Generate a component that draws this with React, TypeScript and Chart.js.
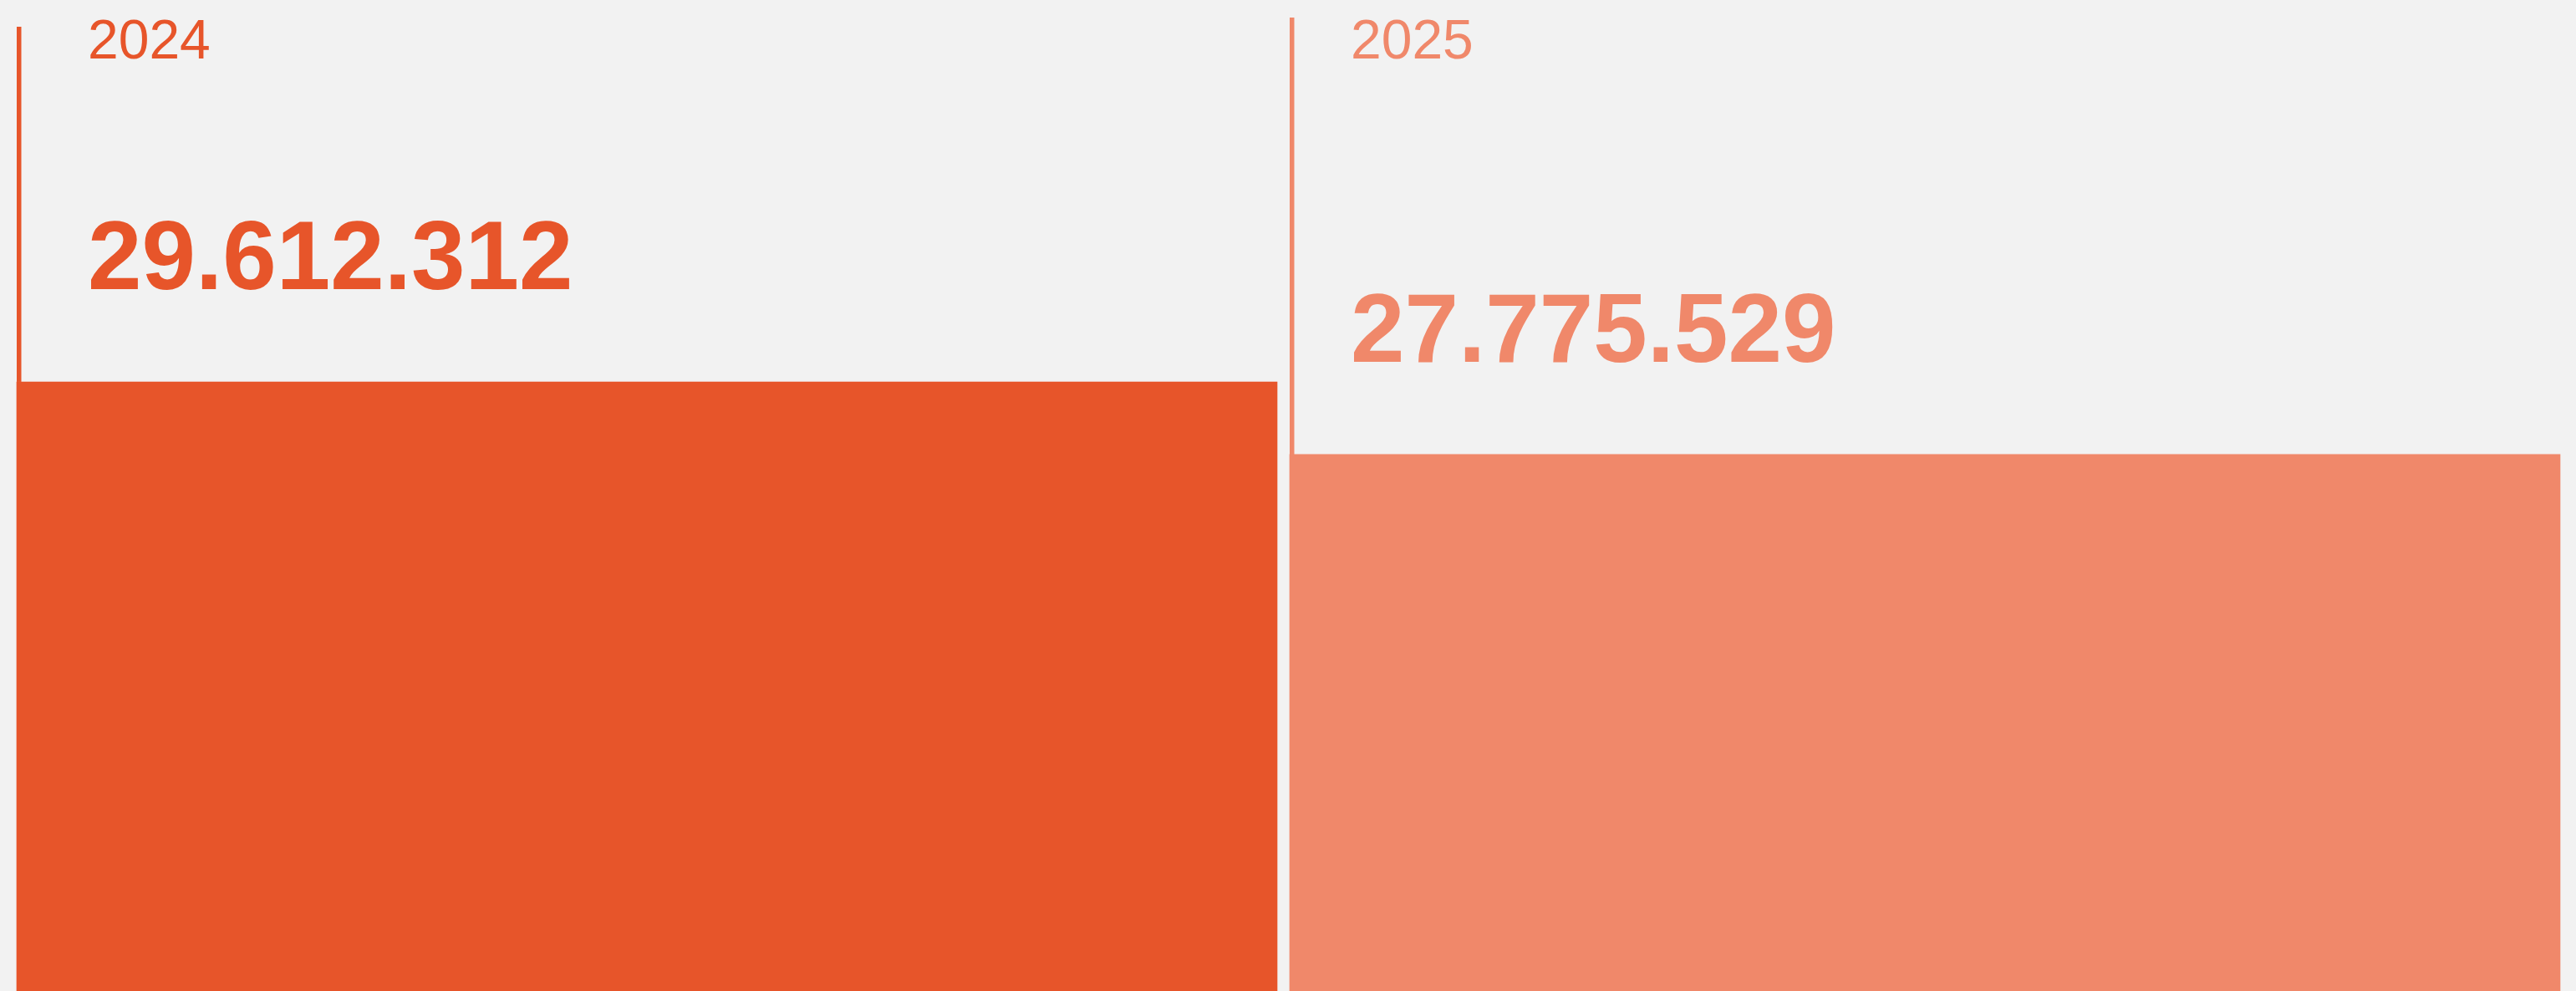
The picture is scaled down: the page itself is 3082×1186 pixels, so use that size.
import React, { useEffect, useRef } from "react";
import { Chart, registerables } from "chart.js";

Chart.register(...registerables);

// ---- data ----
const categories = ["2024", "2025"];
const values = [29612312, 27775529];
const valueLabels = ["29.612.312", "27.775.529"];
const barColors = ["#e7552a", "#f0886a"];

// y-scale window (the chart is cropped: bars run off the bottom)
const yMin = 14220000;
const yMax = 39260000;

const annotatePlugin = {
  id: "annotate",
  afterDatasetsDraw(chart: any, _args: any, opts: any) {
    const ctx = chart.ctx as CanvasRenderingContext2D;
    categories.forEach((cat, i) => {
      const el: any = chart.getDatasetMeta(i).data[i];
      if (!el) return;
      const p = el.getProps(["x", "y", "width"], true);
      const left = p.x - p.width / 2;
      const top = p.y;
      ctx.save();
      ctx.fillStyle = barColors[i];
      // vertical marker line from label area down to the bar
      const lt = opts.lineTops[i];
      ctx.fillRect(left, lt, opts.lineWidth, top - lt);
      // category label
      ctx.textAlign = "left";
      ctx.textBaseline = "alphabetic";
      ctx.font = `400 ${opts.labelSize}px "Liberation Sans", Arial, sans-serif`;
      ctx.fillText(cat, left + opts.textOffsets[i], opts.labelBaseline);
      // value label
      ctx.font = `700 ${opts.valueSize}px "Liberation Sans", Arial, sans-serif`;
      ctx.fillText(valueLabels[i], left + opts.textOffsets[i], top - opts.valueGap);
      ctx.restore();
    });
  },
};

export default function App() {
  const canvasRef = useRef<HTMLCanvasElement | null>(null);

  useEffect(() => {
    document.documentElement.style.margin = "0";
    document.documentElement.style.overflow = "hidden";
    document.body.style.margin = "0";
    document.body.style.background = "#f2f2f2";
    const canvas = canvasRef.current;
    if (!canvas) return;
    const thickness = [1508, 1520];
    const chart = new Chart(canvas, {
      type: "bar",
      data: {
        labels: categories,
        datasets: categories.map((cat, i) => ({
          label: cat,
          data: values.map((v, j) => (j === i ? v : null)),
          backgroundColor: barColors[i],
          borderWidth: 0,
          barThickness: thickness[i],
          skipNull: true,
        })),
      },
      options: {
        responsive: false,
        animation: false,
        devicePixelRatio: 1,
        layout: { padding: { left: 9.5, right: 14.5, top: 0, bottom: 0 } },
        plugins: {
          legend: { display: false },
          tooltip: { enabled: false },
          annotate: {
            lineTops: [32, 21],
            lineWidth: 5.5,
            textOffsets: [85, 73],
            labelSize: 66,
            labelBaseline: 70,
            valueSize: 116,
            valueGap: 111,
          },
        } as any,
        scales: {
          x: { display: false, stacked: false, grid: { display: false } },
          y: { display: false, min: yMin, max: yMax, grid: { display: false } },
        },
      },
      plugins: [annotatePlugin],
    });
    return () => chart.destroy();
  }, []);

  return (
    <div style={{ background: "#f2f2f2", width: 3082, height: 1186 }}>
      <canvas ref={canvasRef} width={3082} height={1186} style={{ display: "block" }} />
    </div>
  );
}
